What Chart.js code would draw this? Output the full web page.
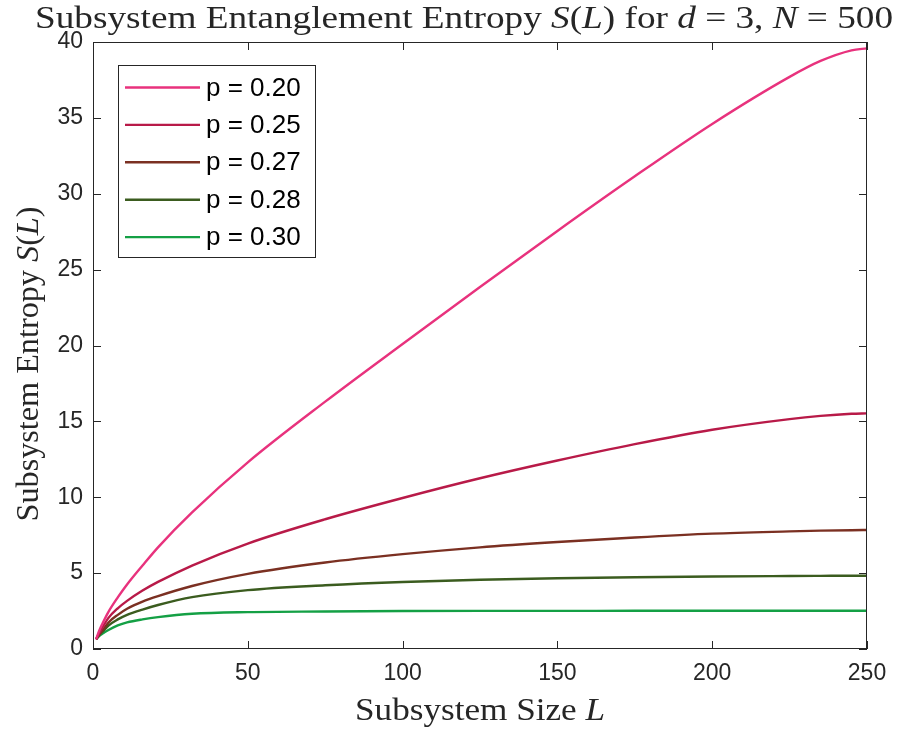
<!DOCTYPE html>
<html>
<head>
<meta charset="utf-8">
<script src="https://cdn.jsdelivr.net/npm/chart.js@4.4.1/dist/chart.umd.min.js"></script>
<style>
  html, body { margin: 0; padding: 0; background: #fff; }
  #wrap { width: 906px; height: 729px; }
</style>
</head>
<body>
<div id="wrap"><canvas id="entropyChart" width="906" height="729"></canvas></div>
<script>
// subsystem sizes L
const sizesL = [1, 2, 3, 5, 8, 11, 16, 21, 32, 50, 75, 100, 125, 150, 175, 200, 225, 235, 245, 250];

// S(L) for each p
const sP20 = [0.64, 1.2, 1.65, 2.45, 3.4, 4.25, 5.5, 6.7, 9.0, 12.3, 16.3, 20.1, 23.85, 27.55, 31.15, 34.6, 37.7, 38.75, 39.45, 39.58];
const sP25 = [0.64, 1.05, 1.4, 2.05, 2.68, 3.17, 3.85, 4.42, 5.5, 6.95, 8.55, 9.95, 11.25, 12.42, 13.5, 14.45, 15.15, 15.36, 15.5, 15.53];
const sP27 = [0.64, 0.95, 1.2, 1.75, 2.25, 2.65, 3.12, 3.48, 4.15, 4.95, 5.7, 6.25, 6.7, 7.05, 7.35, 7.6, 7.75, 7.8, 7.83, 7.84];
const sP28 = [0.64, 0.92, 1.12, 1.55, 1.95, 2.25, 2.6, 2.9, 3.42, 3.88, 4.2, 4.42, 4.56, 4.66, 4.73, 4.78, 4.81, 4.82, 4.83, 4.83];
const sP30 = [0.64, 0.85, 1.0, 1.25, 1.55, 1.75, 1.95, 2.1, 2.32, 2.43, 2.47, 2.5, 2.51, 2.51, 2.52, 2.52, 2.52, 2.52, 2.52, 2.52];

const seriesLabels = ["p = 0.20", "p = 0.25", "p = 0.27", "p = 0.28", "p = 0.30"];
const seriesColors = ["#e8327d", "#b81a48", "#7b3022", "#3b5c1f", "#14a045"];
const xTicks = [0, 50, 100, 150, 200, 250];
const yTicks = [0, 5, 10, 15, 20, 25, 30, 35, 40];

const AXIS_COLOR = "#262626";
const SERIF = '"Liberation Serif", "Times New Roman", serif';
const SANS = '"Liberation Sans", Arial, sans-serif';

function toPoints(vals) {
    return sizesL.map((l, i) => ({ x: l, y: vals[i] }));
}

const allSeries = [sP20, sP25, sP27, sP28, sP30];
const datasets = allSeries.map((vals, i) => ({
    label: seriesLabels[i],
    data: toPoints(vals),
    borderColor: seriesColors[i],
    backgroundColor: seriesColors[i],
    borderWidth: 2.4,
    pointRadius: 0,
    showLine: true,
    fill: false,
    cubicInterpolationMode: "monotone",
}));

// text made of upright and italic pieces, centred on x, stretched to width w
function drawRich(ctx, parts, size, x, y, w) {
    let natural = 0;
    parts.forEach(p => {
        ctx.font = (p.i ? "italic " : "") + size + "px " + SERIF;
        natural += ctx.measureText(p.t).width;
    });
    const k = w ? w / natural : 1;
    ctx.save();
    ctx.translate(x - natural * k / 2, y);
    ctx.scale(k, 1);
    let cx = 0;
    parts.forEach(p => {
        ctx.font = (p.i ? "italic " : "") + size + "px " + SERIF;
        ctx.fillText(p.t, cx, 0);
        cx += ctx.measureText(p.t).width;
    });
    ctx.restore();
}

const matlabFrame = {
    id: "matlabFrame",
    afterDraw(chart) {
        const { ctx, chartArea: a, scales } = chart;
        const sx = scales.x, sy = scales.y;
        ctx.save();
        ctx.strokeStyle = AXIS_COLOR;
        ctx.lineWidth = 1;
        ctx.strokeRect(Math.round(a.left) + 0.5, Math.round(a.top) + 0.5,
            Math.round(a.width) - 1, Math.round(a.height) - 1);

        const tl = 8;
        ctx.beginPath();
        xTicks.forEach(v => {
            const px = Math.round(sx.getPixelForValue(v)) + 0.5;
            ctx.moveTo(px, a.bottom); ctx.lineTo(px, a.bottom - tl);
            ctx.moveTo(px, a.top); ctx.lineTo(px, a.top + tl);
        });
        yTicks.forEach(v => {
            const py = Math.round(sy.getPixelForValue(v)) + 0.5;
            ctx.moveTo(a.left, py); ctx.lineTo(a.left + tl, py);
            ctx.moveTo(a.right, py); ctx.lineTo(a.right - tl, py);
        });
        ctx.stroke();

        // legend box
        const lx = 118, ly = 65, lw = 197, lh = 192;
        ctx.fillStyle = "#fff";
        ctx.fillRect(lx, ly, lw, lh);
        ctx.strokeStyle = AXIS_COLOR;
        ctx.strokeRect(lx + 0.5, ly + 0.5, lw, lh);
        ctx.font = "26px " + SANS;
        ctx.textBaseline = "middle";
        ctx.textAlign = "left";
        chart.data.datasets.forEach((ds, i) => {
            const yy = 87.5 + i * 37.4;
            ctx.strokeStyle = ds.borderColor;
            ctx.lineWidth = 2.4;
            ctx.beginPath();
            ctx.moveTo(125, yy); ctx.lineTo(200, yy);
            ctx.stroke();
            ctx.fillStyle = "#000";
            ctx.fillText(ds.label, 206, yy + 1);
        });

        // titles
        ctx.fillStyle = AXIS_COLOR;
        ctx.textBaseline = "alphabetic";
        ctx.textAlign = "left";
        drawRich(ctx, [
            { t: "Subsystem Entanglement Entropy " }, { t: "S", i: true }, { t: "(" },
            { t: "L", i: true }, { t: ") for " }, { t: "d", i: true }, { t: " = 3, " },
            { t: "N", i: true }, { t: " = 500" }
        ], 32, 464, 28, 858);
        drawRich(ctx, [{ t: "Subsystem Size " }, { t: "L", i: true }], 32, 480, 720, 250);
        ctx.save();
        ctx.translate(38, 364);
        ctx.rotate(-Math.PI / 2);
        drawRich(ctx, [{ t: "Subsystem Entropy " }, { t: "S", i: true }, { t: "(" },
            { t: "L", i: true }, { t: ")" }], 32, 0, 0, 315);
        ctx.restore();
        ctx.restore();
    }
};

new Chart(document.getElementById("entropyChart"), {
    type: "scatter",
    data: { datasets: datasets },
    plugins: [matlabFrame],
    options: {
        responsive: false,
        animation: false,
        layout: { padding: { left: 0, right: 39, top: 42, bottom: 0 } },
        plugins: {
            legend: { display: false },
            title: { display: false },
            tooltip: { enabled: false },
        },
        scales: {
            x: {
                type: "linear",
                min: 0,
                max: 250,
                afterFit: s => { s.height = 80; },
                afterBuildTicks: s => { s.ticks = xTicks.map(v => ({ value: v })); },
                grid: { display: false, drawTicks: false },
                border: { display: false },
                ticks: {
                    padding: 11,
                    color: AXIS_COLOR,
                    font: { family: SANS, size: 23 },
                    maxRotation: 0,
                },
            },
            y: {
                type: "linear",
                min: 0,
                max: 40,
                afterFit: s => { s.width = 93; },
                afterBuildTicks: s => { s.ticks = yTicks.map(v => ({ value: v })); },
                grid: { display: false, drawTicks: false },
                border: { display: false },
                ticks: {
                    padding: 10,
                    color: AXIS_COLOR,
                    font: { family: SANS, size: 23 },
                },
            },
        },
    },
});
</script>
</body>
</html>
